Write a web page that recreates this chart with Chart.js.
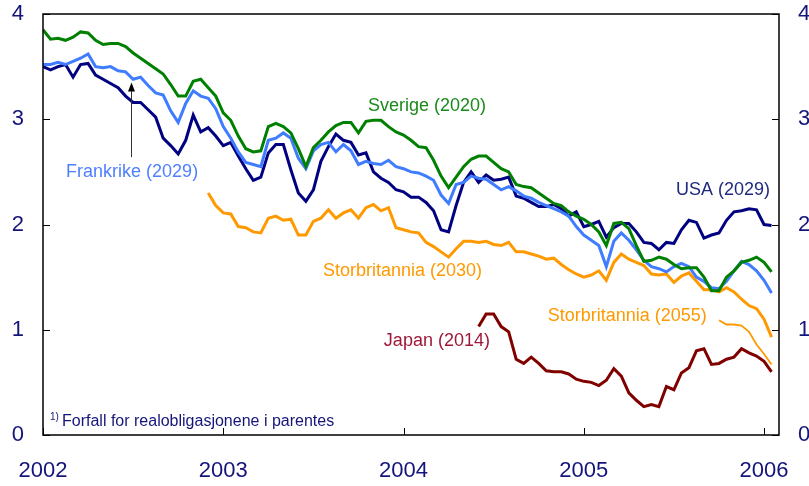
<!DOCTYPE html>
<html>
<head>
<meta charset="utf-8">
<script src="https://cdn.jsdelivr.net/npm/chart.js@4.4.0/dist/chart.umd.min.js"></script>
<style>
  html, body { margin: 0; padding: 0; background: #fff; }
  #wrap { width: 809px; height: 486px; }
</style>
</head>
<body>
<div id="wrap"><canvas id="chart" width="809" height="486"></canvas></div>
<script>
// half-month steps from Jan 2002
const dates = Array.from({ length: 98 }, (_, i) => 2002 + i / 24);

const yTicks = [0, 1, 2, 3, 4];
const xTicks = [2002, 2003, 2004, 2005, 2006];

const sverige = [
  3.85, 3.76, 3.77, 3.75, 3.78, 3.83, 3.82, 3.75, 3.71, 3.72, 3.72, 3.69,
  3.63, 3.58, 3.53, 3.48, 3.43, 3.33, 3.22, 3.22, 3.36, 3.38, 3.30, 3.22,
  3.06, 2.99, 2.84, 2.72, 2.69, 2.70, 2.93, 2.96, 2.93, 2.87, 2.72, 2.55,
  2.73, 2.80, 2.88, 2.94, 2.97, 2.97, 2.87, 2.98, 2.99, 2.99, 2.93, 2.88,
  2.85, 2.80, 2.74, 2.73, 2.61, 2.46, 2.35, 2.45, 2.55, 2.62, 2.65, 2.65,
  2.59, 2.53, 2.50, 2.38, 2.36, 2.35, 2.30, 2.25, 2.20, 2.18, 2.12, 2.08,
  2.05, 2.00, 1.93, 1.80, 2.01, 2.02, 1.96, 1.80, 1.65, 1.66, 1.69, 1.67,
  1.62, 1.58, 1.59, 1.59, 1.50, 1.37, 1.37, 1.50, 1.56, 1.64, 1.66, 1.69,
  1.64, 1.55
];

const frankrike = [
  3.52, 3.52, 3.54, 3.52, 3.55, 3.58, 3.62, 3.50, 3.49, 3.50, 3.46, 3.45,
  3.38, 3.40, 3.32, 3.25, 3.23, 3.08, 2.97, 3.15, 3.27, 3.22, 3.20, 3.10,
  2.93, 2.82, 2.69, 2.59, 2.57, 2.55, 2.80, 2.82, 2.87, 2.82, 2.63, 2.53,
  2.70, 2.76, 2.78, 2.69, 2.76, 2.70, 2.57, 2.60, 2.58, 2.57, 2.61, 2.55,
  2.53, 2.50, 2.49, 2.46, 2.42, 2.28, 2.20, 2.38, 2.40, 2.46, 2.44, 2.43,
  2.38, 2.33, 2.36, 2.32, 2.27, 2.25, 2.21, 2.18, 2.15, 2.12, 2.08, 1.98,
  1.90, 1.85, 1.80, 1.60, 1.84, 1.92, 1.85, 1.76, 1.66, 1.60, 1.58, 1.55,
  1.60, 1.63, 1.60, 1.50, 1.46, 1.40, 1.39, 1.46, 1.56, 1.65, 1.62, 1.56,
  1.47, 1.35
];

const usa = [
  3.50, 3.47, 3.50, 3.52, 3.40, 3.52, 3.53, 3.42, 3.38, 3.34, 3.30, 3.22,
  3.16, 3.16, 3.09, 3.02, 2.82, 2.75, 2.67, 2.80, 3.04, 2.88, 2.92, 2.84,
  2.75, 2.78, 2.65, 2.53, 2.42, 2.45, 2.68, 2.76, 2.76, 2.52, 2.30, 2.22,
  2.33, 2.60, 2.74, 2.86, 2.80, 2.78, 2.66, 2.68, 2.50, 2.44, 2.40, 2.33,
  2.31, 2.26, 2.26, 2.21, 2.13, 1.95, 1.93, 2.18, 2.40, 2.50, 2.40, 2.47,
  2.42, 2.43, 2.45, 2.27, 2.25, 2.21, 2.17, 2.17, 2.19, 2.15, 2.08, 2.12,
  1.98, 2.00, 2.03, 1.88, 1.97, 2.01, 2.01, 1.93, 1.83, 1.82, 1.76, 1.83,
  1.82, 1.95, 2.04, 2.02, 1.87, 1.90, 1.92, 2.04, 2.12, 2.13, 2.15, 2.14,
  2.00, 1.99
];

// Storbritannia (2030) from index 22 (Sep 2002)
const uk2030Start = 22;
const uk2030 = [
  2.30, 2.18, 2.11, 2.10, 1.98, 1.97, 1.93, 1.92, 2.06, 2.08, 2.04, 2.05,
  1.90, 1.90, 2.03, 2.06, 2.14, 2.06, 2.11, 2.14, 2.06, 2.16, 2.19, 2.13,
  2.16, 1.97, 1.95, 1.93, 1.92, 1.83, 1.79, 1.74, 1.69, 1.77, 1.84, 1.84,
  1.83, 1.84, 1.81, 1.80, 1.83, 1.74, 1.74, 1.72, 1.70, 1.67, 1.68, 1.62,
  1.57, 1.53, 1.50, 1.52, 1.56, 1.47, 1.64, 1.72, 1.67, 1.64, 1.61, 1.53,
  1.52, 1.53, 1.45, 1.51, 1.54, 1.46, 1.38, 1.38, 1.36, 1.40, 1.36, 1.29,
  1.23, 1.20, 1.10, 0.93
];

// Storbritannia (2055) from index 90 (Oct 2005)
const uk2055Start = 90;
const uk2055 = [1.09, 1.05, 1.05, 1.04, 0.98, 0.86, 0.77, 0.67];

// Japan (2014) from index 58 (Jun 2004)
const japanStart = 58;
const japan = [
  1.03, 1.15, 1.15, 1.03, 0.98, 0.72, 0.68, 0.74, 0.68, 0.61, 0.60, 0.60,
  0.58, 0.53, 0.51, 0.50, 0.47, 0.52, 0.63, 0.56, 0.40, 0.33, 0.27, 0.29,
  0.27, 0.46, 0.43, 0.59, 0.64, 0.80, 0.82, 0.67, 0.68, 0.72, 0.74, 0.82,
  0.78, 0.75, 0.70, 0.60
];

const series = [
  { name: 'Sverige (2020)', values: sverige, start: 0, color: '#008000', width: 3 },
  { name: 'Frankrike (2029)', values: frankrike, start: 0, color: '#3f7cff', width: 3 },
  { name: 'USA (2029)', values: usa, start: 0, color: '#000080', width: 3 },
  { name: 'Storbritannia (2030)', values: uk2030, start: uk2030Start, color: '#ff9900', width: 3 },
  { name: 'Storbritannia (2055)', values: uk2055, start: uk2055Start, color: '#ff9900', width: 1.8 },
  { name: 'Japan (2014)', values: japan, start: japanStart, color: '#800000', width: 3 }
];

// text annotations, placed in data units
const notes = [
  { text: 'Sverige (2020)', x: 2003.803, y: 3.13, color: '#1a8a1a' },
  { text: 'Frankrike (2029)', x: 2002.128, y: 2.50, color: '#4d7fff' },
  { text: 'USA (2029)', x: 2005.511, y: 2.33, color: '#1f2a80' },
  { text: 'Storbritannia (2030)', x: 2003.553, y: 1.56, color: '#ff9900' },
  { text: 'Storbritannia (2055)', x: 2004.80, y: 1.13, color: '#ff9900' },
  { text: 'Japan (2014)', x: 2003.891, y: 0.89, color: '#a01838' }
];
const arrow = { x: 2002.488, from: 2.64, to: 3.35 };
const footnote = { sup: '1)', text: 'Forfall for realobligasjonene i parentes', x: 2002.05, y: 0.13 };

const navy = '#14147a';
const font = 'Arial, "Liberation Sans", sans-serif';

const frameAndNotes = {
  id: 'frameAndNotes',
  afterDatasetsDraw(chart) {
    const { ctx, chartArea: a, scales } = chart;
    const xs = scales.x, ys = scales.y;
    ctx.save();
    // frame
    ctx.strokeStyle = '#000';
    ctx.lineWidth = 1.5;
    ctx.strokeRect(a.left, a.top, a.right - a.left, a.bottom - a.top);
    // inward ticks
    ctx.lineWidth = 1;
    ctx.beginPath();
    yTicks.forEach(v => {
      const py = Math.round(ys.getPixelForValue(v)) + 0.5;
      ctx.moveTo(a.left, py); ctx.lineTo(a.left + 7, py);
      ctx.moveTo(a.right, py); ctx.lineTo(a.right - 7, py);
    });
    xTicks.forEach(v => {
      const px = Math.round(xs.getPixelForValue(v)) + 0.5;
      ctx.moveTo(px, a.bottom); ctx.lineTo(px, a.bottom - 7);
    });
    ctx.stroke();

    // series labels
    ctx.font = '18px ' + font;
    ctx.textAlign = 'left';
    ctx.textBaseline = 'middle';
    notes.forEach(n => {
      ctx.fillStyle = n.color;
      ctx.fillText(n.text, xs.getPixelForValue(n.x), ys.getPixelForValue(n.y));
    });

    // arrow to Frankrike
    const ax = Math.round(xs.getPixelForValue(arrow.x)) + 0.5;
    const ay0 = ys.getPixelForValue(arrow.from);
    const ay1 = ys.getPixelForValue(arrow.to);
    ctx.strokeStyle = '#333';
    ctx.fillStyle = '#000';
    ctx.lineWidth = 1;
    ctx.beginPath();
    ctx.moveTo(ax, ay0); ctx.lineTo(ax, ay1 + 6);
    ctx.stroke();
    ctx.beginPath();
    ctx.moveTo(ax, ay1);
    ctx.lineTo(ax - 3.5, ay1 + 9);
    ctx.lineTo(ax + 3.5, ay1 + 9);
    ctx.closePath();
    ctx.fill();

    // footnote
    const fx = xs.getPixelForValue(footnote.x);
    const fy = ys.getPixelForValue(footnote.y);
    ctx.fillStyle = navy;
    ctx.font = '10px ' + font;
    ctx.fillText(footnote.sup, fx - 2, fy - 4);
    ctx.font = '16px ' + font;
    ctx.fillText(footnote.text, fx + 10, fy);
    ctx.restore();
  }
};

function noPad(s) {
  s.paddingTop = 0; s.paddingBottom = 0;
  s.paddingLeft = 0; s.paddingRight = 0;
}

new Chart(document.getElementById('chart'), {
  type: 'line',
  data: {
    datasets: series.map(s => ({
      label: s.name,
      data: s.values.map((v, i) => ({ x: dates[s.start + i], y: v })),
      borderColor: s.color,
      borderWidth: s.width,
      pointRadius: 0,
      tension: 0,
      fill: false,
      yAxisID: 'y'
    }))
  },
  options: {
    responsive: false,
    animation: false,
    layout: { padding: { top: 14, left: 0, right: 0, bottom: 0 } },
    plugins: { legend: { display: false }, tooltip: { enabled: false } },
    scales: {
      x: {
        type: 'linear',
        min: 2002,
        max: 2006.083,
        afterFit: s => { s.height = 51; noPad(s); },
        afterBuildTicks: s => { s.ticks = xTicks.map(v => ({ value: v })); },
        grid: { display: false, drawTicks: false },
        border: { display: false },
        ticks: {
          color: navy, font: { family: font, size: 22 }, padding: 23,
          autoSkip: false, maxRotation: 0, callback: v => String(v)
        }
      },
      y: {
        position: 'left',
        min: 0,
        max: 4,
        afterFit: s => { s.width = 43; noPad(s); },
        afterBuildTicks: s => { s.ticks = yTicks.map(v => ({ value: v })); },
        grid: { display: false, drawTicks: false },
        border: { display: false },
        ticks: { color: navy, font: { family: font, size: 22 }, padding: 19, callback: v => String(v) }
      },
      y2: {
        position: 'right',
        min: 0,
        max: 4,
        afterFit: s => { s.width = 30; noPad(s); },
        afterBuildTicks: s => { s.ticks = yTicks.map(v => ({ value: v })); },
        grid: { display: false, drawTicks: false },
        border: { display: false },
        ticks: { color: navy, font: { family: font, size: 22 }, padding: 19, callback: v => String(v) }
      }
    }
  },
  plugins: [frameAndNotes]
});
</script>
</body>
</html>
